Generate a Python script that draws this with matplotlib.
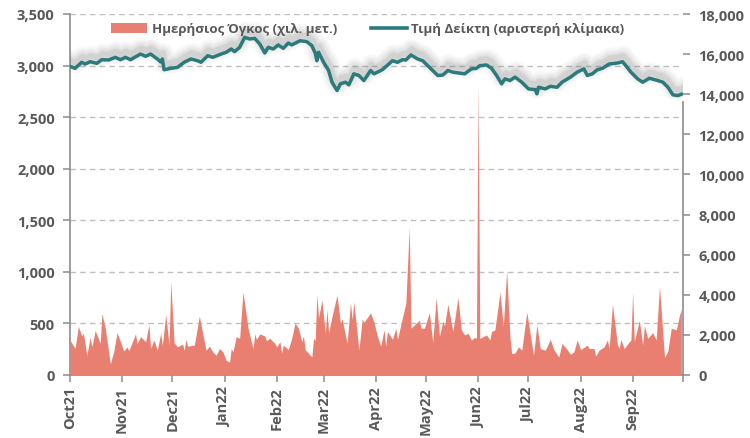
import matplotlib
matplotlib.use("Agg")
import matplotlib.pyplot as plt
import matplotlib.dates as mdates
import matplotlib.patheffects as pe
from matplotlib.ticker import FuncFormatter, MultipleLocator
import pandas as pd

plt.rcParams['font.family'] = ['Open Sans', 'DejaVu Sans']

# ---- Index price (left scale) ----
price_dates = [
    "2021-10-01", "2021-10-04", "2021-10-08", "2021-10-10", "2021-10-13", "2021-10-17",
    "2021-10-20", "2021-10-24", "2021-10-28", "2021-10-31", "2021-11-03", "2021-11-06",
    "2021-11-12", "2021-11-15", "2021-11-18", "2021-11-22", "2021-11-24", "2021-11-25",
    "2021-11-26", "2021-11-30", "2021-12-04", "2021-12-08", "2021-12-12", "2021-12-16",
    "2021-12-18", "2021-12-22", "2021-12-25", "2021-12-30", "2022-01-02", "2022-01-05",
    "2022-01-07", "2022-01-10", "2022-01-13", "2022-01-16", "2022-01-19", "2022-01-22",
    "2022-01-25", "2022-01-27", "2022-01-30", "2022-02-02", "2022-02-05", "2022-02-08",
    "2022-02-10", "2022-02-15", "2022-02-19", "2022-02-22", "2022-02-24", "2022-02-25",
    "2022-02-26", "2022-03-01", "2022-03-04", "2022-03-06", "2022-03-09", "2022-03-11",
    "2022-03-14", "2022-03-16", "2022-03-19", "2022-03-22", "2022-03-25", "2022-03-29",
    "2022-03-31", "2022-04-04", "2022-04-05", "2022-04-11", "2022-04-14", "2022-04-17",
    "2022-04-19", "2022-04-22", "2022-04-26", "2022-04-29", "2022-05-03", "2022-05-08",
    "2022-05-11", "2022-05-14", "2022-05-17", "2022-05-24", "2022-05-28", "2022-05-31",
    "2022-06-02", "2022-06-06", "2022-06-09", "2022-06-12", "2022-06-15", "2022-06-17",
    "2022-06-20", "2022-06-23", "2022-06-27", "2022-07-01", "2022-07-05", "2022-07-06",
    "2022-07-07", "2022-07-11", "2022-07-14", "2022-07-18", "2022-07-21", "2022-07-26",
    "2022-07-30", "2022-08-03", "2022-08-05", "2022-08-08", "2022-08-11", "2022-08-14",
    "2022-08-18", "2022-08-23", "2022-08-26", "2022-08-28", "2022-08-31", "2022-09-04",
    "2022-09-07", "2022-09-11", "2022-09-16", "2022-09-19", "2022-09-22", "2022-09-25",
    "2022-09-28", "2022-09-30",
]
price_values = [
    2993, 2973, 3032, 3015, 3037, 3022,
    3057, 3054, 3080, 3057, 3080, 3057,
    3112, 3090, 3112, 3064, 3035, 3064,
    2960, 2973, 2983, 3032, 3064, 3047,
    3032, 3096, 3080, 3112, 3129, 3161,
    3135, 3177, 3274, 3258, 3264, 3209,
    3122, 3177, 3161, 3200, 3167, 3219,
    3200, 3241, 3232, 3193, 3122, 3047,
    3129, 3032, 2952, 2839, 2758, 2823,
    2839, 2813, 2920, 2904, 2855, 2952,
    2920, 2952, 2960, 3047, 3032, 3057,
    3054, 3103, 3064, 3047, 2983, 2904,
    2908, 2952, 2936, 2920, 2968, 2973,
    2999, 3006, 2973, 2904, 2823, 2871,
    2855, 2888, 2839, 2774, 2767, 2726,
    2790, 2774, 2799, 2790, 2839, 2888,
    2936, 2968, 2904, 2920, 2960, 2973,
    3015, 3025, 3037, 2999, 2936, 2871,
    2839, 2877, 2855, 2839, 2790, 2716,
    2709, 2722,
]

# ---- Daily volume (right scale, thousand shares) ----
volume_dates = [
    "2021-10-01", "2021-10-04", "2021-10-06", "2021-10-08", "2021-10-09", "2021-10-11",
    "2021-10-13", "2021-10-14", "2021-10-16", "2021-10-19", "2021-10-20", "2021-10-22",
    "2021-10-25", "2021-10-27", "2021-10-29", "2021-11-02", "2021-11-04", "2021-11-05",
    "2021-11-09", "2021-11-10", "2021-11-12", "2021-11-15", "2021-11-17", "2021-11-18",
    "2021-11-20", "2021-11-22", "2021-11-24", "2021-11-25", "2021-11-27", "2021-11-29",
    "2021-11-30", "2021-12-02", "2021-12-04", "2021-12-07", "2021-12-08", "2021-12-09",
    "2021-12-10", "2021-12-14", "2021-12-15", "2021-12-17", "2021-12-21", "2021-12-23",
    "2021-12-25", "2021-12-27", "2021-12-29", "2021-12-31", "2022-01-02", "2022-01-04",
    "2022-01-05", "2022-01-06", "2022-01-08", "2022-01-10", "2022-01-12", "2022-01-15",
    "2022-01-18", "2022-01-19", "2022-01-20", "2022-01-22", "2022-01-25", "2022-01-26",
    "2022-01-28", "2022-01-31", "2022-02-01", "2022-02-03", "2022-02-04", "2022-02-05",
    "2022-02-08", "2022-02-10", "2022-02-12", "2022-02-14", "2022-02-16", "2022-02-17",
    "2022-02-18", "2022-02-22", "2022-02-23", "2022-02-24", "2022-02-25", "2022-02-26",
    "2022-02-28", "2022-03-02", "2022-03-03", "2022-03-04", "2022-03-06", "2022-03-09",
    "2022-03-11", "2022-03-12", "2022-03-15", "2022-03-17", "2022-03-18", "2022-03-19",
    "2022-03-22", "2022-03-24", "2022-03-25", "2022-03-29", "2022-03-31", "2022-04-02",
    "2022-04-04", "2022-04-06", "2022-04-07", "2022-04-08", "2022-04-11", "2022-04-13",
    "2022-04-14", "2022-04-19", "2022-04-21", "2022-04-22", "2022-04-27", "2022-04-28",
    "2022-04-30", "2022-05-03", "2022-05-05", "2022-05-07", "2022-05-09", "2022-05-11",
    "2022-05-12", "2022-05-14", "2022-05-17", "2022-05-20", "2022-05-22", "2022-05-24",
    "2022-05-26", "2022-05-28", "2022-05-30", "2022-05-31", "2022-06-01", "2022-06-02",
    "2022-06-04", "2022-06-06", "2022-06-08", "2022-06-09", "2022-06-11", "2022-06-14",
    "2022-06-16", "2022-06-18", "2022-06-20", "2022-06-21", "2022-06-23", "2022-06-25",
    "2022-06-27", "2022-06-30", "2022-07-04", "2022-07-06", "2022-07-08", "2022-07-11",
    "2022-07-14", "2022-07-16", "2022-07-19", "2022-07-21", "2022-07-24", "2022-07-26",
    "2022-07-28", "2022-07-30", "2022-08-01", "2022-08-05", "2022-08-06", "2022-08-09",
    "2022-08-10", "2022-08-12", "2022-08-15", "2022-08-17", "2022-08-18", "2022-08-20",
    "2022-08-23", "2022-08-24", "2022-08-25", "2022-08-27", "2022-08-30", "2022-08-31",
    "2022-09-01", "2022-09-02", "2022-09-05", "2022-09-07", "2022-09-08", "2022-09-10",
    "2022-09-13", "2022-09-15", "2022-09-17", "2022-09-20", "2022-09-22", "2022-09-24",
    "2022-09-27", "2022-09-29", "2022-09-30",
]
volume_values = [
    1743, 1320, 2420, 1946, 2081, 981,
    1878, 1404, 2217, 1574, 3063, 2335,
    558, 1151, 2115, 1201, 1404, 1201,
    2047, 1574, 1912, 1658, 2504, 1320,
    1743, 1235, 2081, 1489, 3012, 1489,
    4653, 1607, 1404, 1540, 1235, 1777,
    1438, 1489, 1946, 2927, 1235, 1438,
    1151, 981, 1320, 1151, 728, 643,
    1320, 1151, 1912, 1827, 4145, 2335,
    1320, 2047, 1777, 2047, 1946, 1709,
    1827, 1574, 1404, 1658, 1100, 1489,
    1269, 1827, 2589, 2335, 1658, 1946,
    1269, 897, 1827, 1709, 4027, 2843,
    3739, 2081, 3266, 2081, 2927, 3976,
    2589, 2792, 1574, 3604, 2758, 3638,
    1235, 2792, 2623, 3096, 2620, 1950,
    1438, 2250, 1438, 2166, 1777, 2335,
    1777, 3604, 7360, 2335, 2724, 2335,
    2335, 3096, 1607, 3858, 1946, 2673,
    2453, 3519, 2166, 3858, 2250, 1997,
    2081, 1743, 1878, 1827, 14500, 1827,
    1912, 1997, 1743, 2166, 2250, 4112,
    2420, 5211, 1827, 1066, 1100, 1404,
    1235, 3130, 981, 2504, 1320, 1235,
    1777, 1269, 897, 1574, 1269, 1032,
    1151, 1743, 1269, 1489, 1320, 1320,
    931, 1235, 1404, 1743, 1320, 3519,
    1489, 1320, 1777, 1320, 1658, 1743,
    4112, 1658, 2724, 1489, 2453, 1827,
    2115, 1743, 4416, 863, 1201, 2335,
    2250, 3012, 3266,
]

series_labels = ["Ημερήσιος Όγκος (χιλ. μετ.)", "Τιμή Δείκτη (αριστερή κλίμακα)"]

AREA_COLOR = "#E97F70"
LINE_COLOR = "#2C7A7B"
TEXT_COLOR = "#595959"
AXIS_COLOR = "#8C8C8C"
GRID_COLOR = "#BFBFBF"

pdates = pd.to_datetime(price_dates)
vdates = pd.to_datetime(volume_dates)
x_end = pd.Timestamp("2022-10-01")

fig = plt.figure(figsize=(7.5, 4.39), dpi=100)
rect = [70 / 750, 1 - 376 / 439, 613 / 750, 361 / 439]
ax = fig.add_axes(rect)
ax2 = ax.twinx()
ax3 = fig.add_axes(rect, sharex=ax, sharey=ax)
ax3.axis("off")
ax3.patch.set_visible(False)

# area on right axis
ax2.fill_between(vdates, volume_values, 0, color=AREA_COLOR, lw=0, label=series_labels[0])
ax2.set_ylim(0, 18000)
ax2.yaxis.set_major_locator(MultipleLocator(2000))
ax2.yaxis.set_major_formatter(FuncFormatter(lambda v, p: f"{int(v):,}"))

# line on top, left scale
shadow = [pe.SimpleLineShadow(offset=(0.5, 4), shadow_color="#7A7A7A", alpha=a, linewidth=w)
          for a, w in ((0.05, 15), (0.06, 12), (0.07, 9), (0.09, 6), (0.1, 4))]
line, = ax3.plot(pdates, price_values, color=LINE_COLOR, lw=2.5, solid_joinstyle="round",
                 label=series_labels[1], path_effects=shadow + [pe.Normal()])

ax.set_ylim(0, 3500)
ax.yaxis.set_major_locator(MultipleLocator(500))
ax.yaxis.set_major_formatter(FuncFormatter(lambda v, p: f"{int(v):,}"))
ax.set_xlim(pd.Timestamp("2021-10-01"), x_end)
ax.xaxis.set_major_locator(mdates.MonthLocator())
ax.xaxis.set_major_formatter(FuncFormatter(
    lambda v, p: "" if mdates.num2date(v).replace(tzinfo=None) >= x_end
    else mdates.num2date(v).strftime("%b%y")))
ax.grid(axis="y", color=GRID_COLOR, linestyle=(0, (4, 3)), lw=1.0)
ax.set_axisbelow(True)

for a in (ax, ax2):
    a.spines["top"].set_visible(False)
    for s in ("left", "right", "bottom"):
        a.spines[s].set_color(AXIS_COLOR)
        a.spines[s].set_linewidth(1.2)
    a.tick_params(colors=AXIS_COLOR, labelcolor=TEXT_COLOR, length=5, width=1.1,
                  labelsize=10.5)
    for lbl in a.get_yticklabels():
        lbl.set_fontweight("bold")
ax2.spines["left"].set_visible(False)
ax2.spines["bottom"].set_visible(False)
ax.spines["right"].set_visible(False)
ax2.spines["right"].set_bounds(0, 13600)

ax.tick_params(axis="x", labelrotation=90, pad=3)
for lbl in ax.get_xticklabels():
    lbl.set_fontweight("bold")
ax.tick_params(axis="y", pad=6)
ax2.tick_params(axis="y", pad=6)

handles = [ax2.collections[0], line]
leg = fig.legend(handles, series_labels, loc="center", ncol=2,
                 bbox_to_anchor=(368 / 750, 1 - 30 / 439), frameon=False,
                 handlelength=2.7, handletextpad=0.35, columnspacing=2.6,
                 prop={"weight": "bold", "size": 9.5})
for t in leg.get_texts():
    t.set_color(TEXT_COLOR)
leg.legend_handles[1].set_path_effects([])
leg.legend_handles[1].set_linewidth(2.6)

fig.savefig("out.png", dpi=100)
